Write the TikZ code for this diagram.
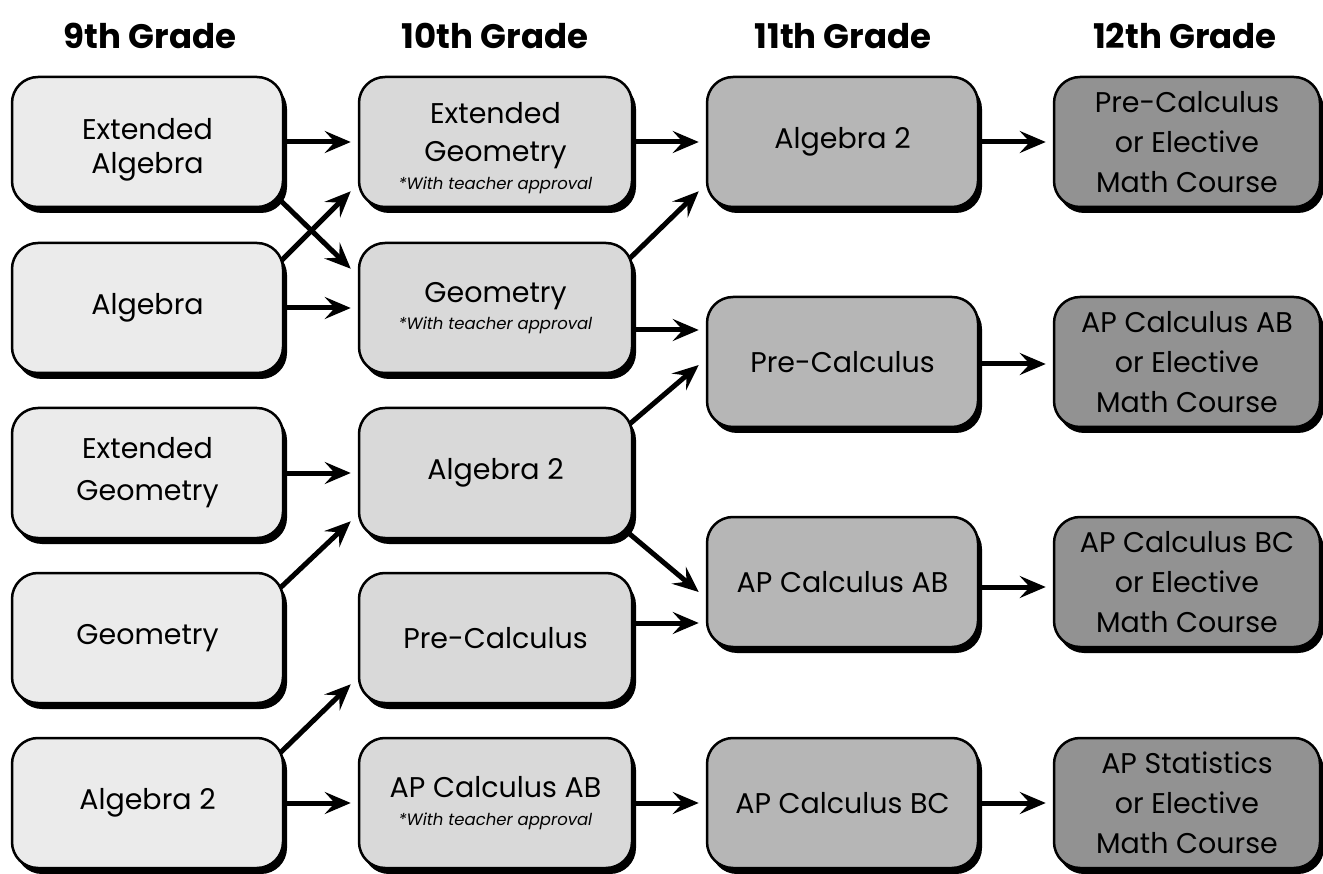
\documentclass[tikz,border=0pt]{standalone}
\usepackage{fontspec}
\setmainfont{Poppins}
\usetikzlibrary{shadows,arrows.meta,calc}
\pgfdeclarelayer{bg}
\pgfsetlayers{bg,main}
\definecolor{cA}{HTML}{EBEBEB}
\definecolor{cB}{HTML}{D9D9D9}
\definecolor{cC}{HTML}{B6B6B6}
\definecolor{cD}{HTML}{929292}
\newcommand{\notefont}{\fontsize{16.5}{20}\selectfont\itshape}
\begin{document}
\begin{tikzpicture}[x=1pt,y=-1pt,
  box/.style={rounded corners=26pt, draw=black, line width=2.5pt, minimum height=130pt,
    align=center, inner sep=0pt, font=\fontsize{28.5}{38}\selectfont,
    drop shadow={shadow xshift=4pt, shadow yshift=-6pt, opacity=1, fill=black}},
  boxA/.style={box, fill=cA, minimum width=271pt},
  boxB/.style={box, fill=cB, minimum width=273pt},
  boxC/.style={box, fill=cC, minimum width=271pt},
  boxD/.style={box, fill=cD, minimum width=266pt, font=\fontsize{28.5}{40}\selectfont},
  head/.style={font=\fontsize{34}{40}\selectfont\bfseries, inner sep=0pt},
  arr/.style={line width=5pt, -{Stealth[length=26pt,width=22pt,inset=10pt]}}]
\useasboundingbox (0,0) rectangle (1323,874);

% headers
\node[head] (h9)  at (150,36) {9th Grade};
\node[head] (h10) at (495,36) {10th Grade};
\node[head] (h11) at (843,36) {11th Grade};
\node[head] (h12) at (1185,36) {12th Grade};

% 9th grade
\node[boxA] (a1) at (147.5,142) {\rule{0pt}{37pt}Extended\\[-4pt]Algebra};
\node[boxA] (a2) at (147.5,308) {Algebra};
\node[boxA] (a3) at (147.5,473) {Extended\\[4pt]Geometry};
\node[boxA] (a4) at (147.5,638) {Geometry};
\node[boxA] (a5) at (147.5,803) {Algebra 2};

% 10th grade
\node[boxB] (b1) at (495.5,142) {\rule{0pt}{34pt}Extended\\Geometry\\[-10pt]{\notefont *With teacher approval}};
\node[boxB] (b2) at (495.5,308) {Geometry\\[-11pt]{\notefont *With teacher approval}};
\node[boxB] (b3) at (495.5,473) {Algebra 2};
\node[boxB] (b4) at (495.5,638) {Pre-Calculus};
\node[boxB] (b5) at (495.5,803) {AP Calculus AB\\[-10pt]{\notefont *With teacher approval}};

% 11th grade
\node[boxC] (c1) at (842.5,142) {Algebra 2};
\node[boxC] (c2) at (842.5,362) {Pre-Calculus};
\node[boxC] (c3) at (842.5,582) {AP Calculus AB};
\node[boxC] (c4) at (842.5,803) {AP Calculus BC};

% 12th grade
\node[boxD] (d1) at (1187,142) {Pre-Calculus\\or Elective\\Math Course};
\node[boxD] (d2) at (1187,362) {AP Calculus AB\\or Elective\\Math Course};
\node[boxD] (d3) at (1187,582) {AP Calculus BC\\or Elective\\Math Course};
\node[boxD] (d4) at (1187,803) {AP Statistics\\or Elective\\Math Course};

\begin{pgfonlayer}{bg}
% 9 -> 10
\draw[arr] (a1.east) -- ($(b1.west)+(-7,0)$);
\draw[arr] ($(a1.south east)+(-6,-10)$) -- ($(b2.north west)+(-7,27)$);
\draw[arr] ($(a2.north east)+(-6,22)$) -- ($(b1.south west)+(-7,-17)$);
\draw[arr] (a2.east) -- ($(b2.west)+(-7,0)$);
\draw[arr] (a3.east) -- ($(b3.west)+(-7,0)$);
\draw[arr] ($(a4.north east)+(-6,18)$) -- ($(b3.south west)+(-7,-18)$);
\draw[arr] ($(a5.north east)+(-6,18)$) -- ($(b4.south west)+(-7,-20)$);
\draw[arr] (a5.east) -- ($(b5.west)+(-7,0)$);
% 10 -> 11
\draw[arr] (b1.east) -- ($(c1.west)+(-7,0)$);
\draw[arr] ($(b2.north east)+(-8,21)$) -- ($(c1.south west)+(-7,-17)$);
\draw[arr] ($(b2.east)+(0,22)$) -- ($(c2.west)+(-7,-32)$);
\draw[arr] ($(b3.north east)+(-8,21)$) -- ($(c2.west)+(-7,3)$);
\draw[arr] ($(b3.south east)+(-8,-9)$) -- ($(c3.west)+(-7,10)$);
\draw[arr] ($(b4.east)+(0,-15)$) -- ($(c3.west)+(-7,41)$);
\draw[arr] (b5.east) -- ($(c4.west)+(-7,0)$);
% 11 -> 12
\draw[arr] (c1.east) -- ($(d1.west)+(-7,0)$);
\draw[arr] ($(c2.east)+(0,2)$) -- ($(d2.west)+(-7,2)$);
\draw[arr] ($(c3.east)+(0,5)$) -- ($(d3.west)+(-7,5)$);
\draw[arr] (c4.east) -- ($(d4.west)+(-7,0)$);
\end{pgfonlayer}
\end{tikzpicture}
\end{document}
